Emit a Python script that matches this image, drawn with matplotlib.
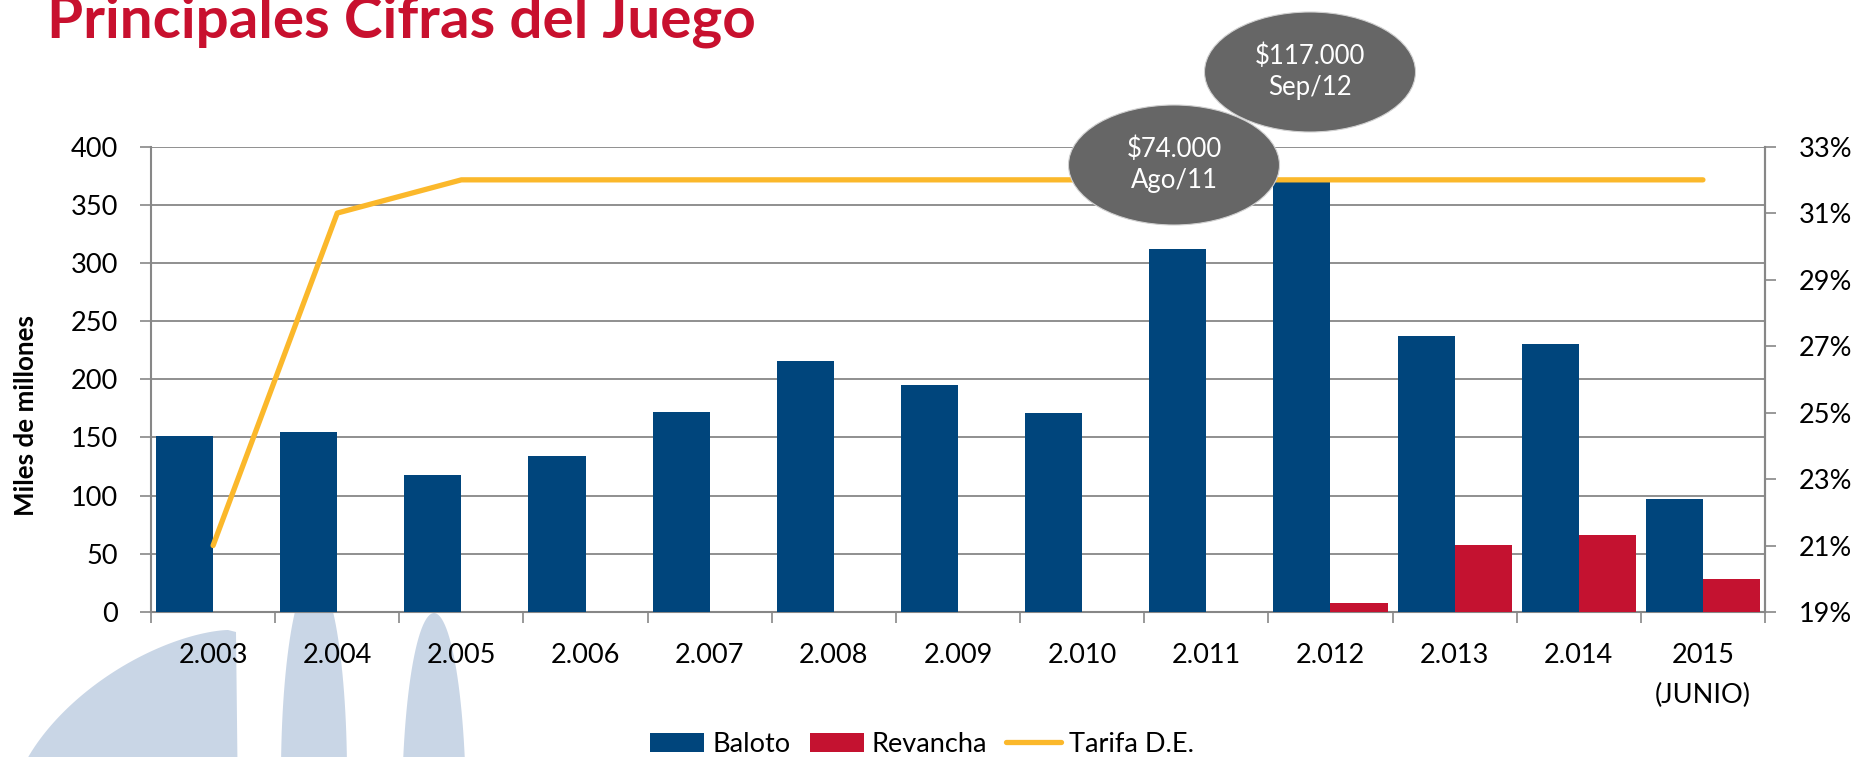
import numpy as np
import matplotlib
matplotlib.use('Agg')
import matplotlib.pyplot as plt
from matplotlib.patches import Ellipse, Polygon, Patch
from matplotlib.lines import Line2D
from matplotlib.ticker import FuncFormatter

plt.rcParams['font.family'] = ['Lato', 'DejaVu Sans']

# data
years = ['2.003', '2.004', '2.005', '2.006', '2.007', '2.008', '2.009',
         '2.010', '2.011', '2.012', '2.013', '2.014', '2015\n(JUNIO)']
baloto = [151, 155, 118, 134, 172, 216, 195, 171, 312, 370, 237, 230, 97]
revancha = [0, 0, 0, 0, 0, 0, 0, 0, 0, 8, 58, 66, 28]
tarifa = [21, 31, 32, 32, 32, 32, 32, 32, 32, 32, 32, 32, 32]
callouts = [('$74.000\nAgo/11', 1174, 165), ('$117.000\nSep/12', 1310, 72)]

blue = '#00457C'
red = '#C41230'
gold = '#FBB82B'
grid_c = '#878787'

W, H = 1854, 757
fig = plt.figure(figsize=(W / 100, H / 100), dpi=100)
fig.patch.set_facecolor('white')

# light watermark shapes behind the chart (decoration)
wm = '#C9D6E6'
r = np.linspace(0, 1, 80)
big = [(228 - 215 * v, 800 - 170 * (1 - v ** 1.6) ** (1 / 1.6)) for v in r]
big = big + [(-10, 810), (238, 810), (236, 632)]
shapes = [big]
for cx, top, hw in [(314, 575, 33), (434, 613, 32)]:
    tt = np.linspace(0, np.pi, 60)
    pts = [(cx + hw * np.cos(a), top + 200 - 200 * np.sin(a)) for a in tt]
    pts = pts + [(cx - hw - 3, 790), (cx + hw + 3, 790)]
    shapes.append(pts)
for pts in shapes:
    fig.patches.append(Polygon([(x / W, 1 - y / H) for x, y in pts], closed=True,
                               transform=fig.transFigure, facecolor=wm,
                               edgecolor='none', zorder=-5))

ax = fig.add_axes([151 / W, 1 - 612 / H, (1765 - 151) / W, (612 - 146.6) / H])
ax.set_facecolor('none')
x = np.arange(len(years))
bw = 0.46
ax.bar(x - bw / 2, baloto, bw, color=blue, zorder=3)
ax.bar(x + bw / 2, revancha, bw, color=red, zorder=3)

ax.set_xlim(-0.5, len(years) - 0.5)
ax.set_ylim(0, 400)
ax.set_yticks(np.arange(0, 401, 50))
ax.yaxis.grid(True, color=grid_c, linewidth=1.3, zorder=0)
ax.set_axisbelow(True)
ax.set_xticks(np.arange(-0.5, len(years), 1.0))
ax.set_xticklabels([])
ax.set_xticks(x, minor=True)
ax.set_xticklabels(years, minor=True)
for lbl in ax.get_xticklabels(minor=True):
    lbl.set_linespacing(1.75)
ax.tick_params(axis='x', which='major', direction='out', length=8, width=1.2, color=grid_c)
ax.tick_params(axis='x', which='minor', length=0, pad=22, labelsize=19.5)
ax.tick_params(axis='y', direction='out', length=8, width=1.2, color=grid_c,
               labelsize=19.5, pad=16)
ax.spines['top'].set_visible(False)
for s in ['left', 'bottom', 'right']:
    ax.spines[s].set_color(grid_c)
    ax.spines[s].set_linewidth(1.5)
fig.text(26 / W, 1 - 416 / H, 'Miles de millones', rotation=90, fontsize=18.7,
         fontweight='bold', ha='center', va='center')

ax2 = ax.twinx()
ax2.plot(x, tarifa, color=gold, linewidth=3.8, solid_capstyle='round', zorder=4)
ax2.set_ylim(19, 33)
ax2.set_yticks(np.arange(19, 34, 2))
ax2.yaxis.set_major_formatter(FuncFormatter(lambda v, p: '%d%%' % v))
ax2.tick_params(axis='y', direction='out', length=8, width=1.2, color=grid_c,
                labelsize=19.5, pad=16)
for s in ['top', 'left', 'bottom']:
    ax2.spines[s].set_visible(False)
ax2.spines['right'].set_color(grid_c)
ax2.spines['right'].set_linewidth(1.5)

# callout bubbles
for txt, cx, cy in callouts:
    e = Ellipse((cx / W, 1 - cy / H), 211 / W, 120 / H, transform=fig.transFigure,
                facecolor='#666666', edgecolor='#d0d0d0', linewidth=0.8, zorder=10)
    fig.patches.append(e)
    fig.text(cx / W, 1 - cy / H, txt, ha='center', va='center', color='white',
             fontsize=18.5, linespacing=1.3, zorder=11)

fig.text(47 / W, 1 - 37 / H, 'Principales Cifras del Juego', color='#C8102E',
         fontsize=42, fontweight='bold', ha='left', va='baseline')

handles = [Patch(facecolor=blue), Patch(facecolor=red),
           Line2D([], [], color=gold, linewidth=3.8, solid_capstyle='round')]
fig.legend(handles, ['Baloto', 'Revancha', 'Tarifa D.E.'], loc='center',
           bbox_to_anchor=(922 / W, 1 - 744 / H), ncol=3, frameon=False,
           fontsize=19.5, handlelength=2.0, handleheight=0.7, handletextpad=0.3,
           columnspacing=0.7)

fig.savefig('out.png', dpi=100)
